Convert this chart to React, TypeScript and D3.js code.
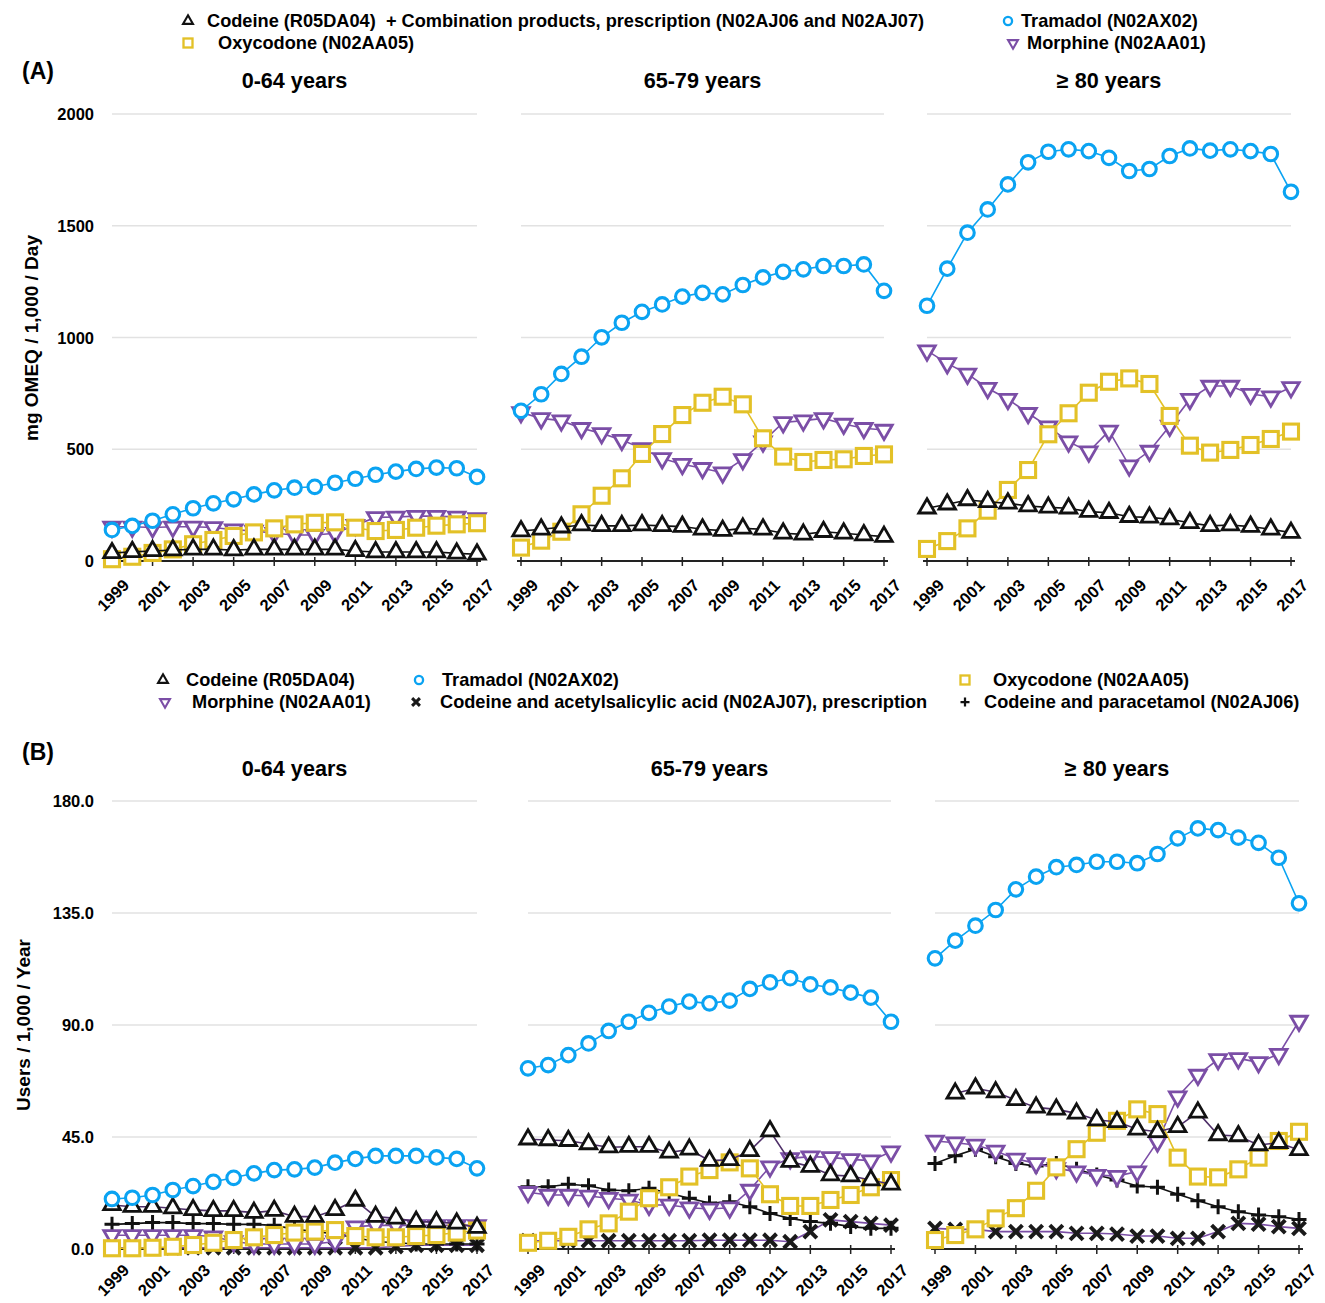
import React from 'react';
import * as d3 from 'd3';

const YEARS = [1999, 2000, 2001, 2002, 2003, 2004, 2005, 2006, 2007, 2008, 2009, 2010, 2011, 2012, 2013, 2014, 2015, 2016, 2017];
const YEAR_TICKS = [1999, 2001, 2003, 2005, 2007, 2009, 2011, 2013, 2015, 2017];
const AGE_GROUPS = ['0-64 years', '65-79 years', '\u2265 80 years'];

// (A) mg OMEQ / 1,000 / Day
const A_TRAMADOL_0_64 = [139, 157, 180, 209, 236, 258, 276, 298, 316, 328, 332, 350, 368, 386, 400, 412, 418, 415, 376];
const A_MORPHINE_0_64 = [153, 153, 150, 153, 153, 150, 140, 135, 124, 116, 116, 124, 160, 195, 197, 201, 201, 197, 190];
const A_OXYCODONE_0_64 = [8, 19, 36, 52, 75, 94, 112, 128, 146, 164, 171, 173, 149, 134, 139, 149, 158, 164, 169];
const A_CODEINE_0_64 = [36, 41, 45, 49, 52, 52, 49, 52, 52, 52, 52, 52, 45, 40, 40, 40, 40, 34, 30];

const A_TRAMADOL_65_79 = [672, 746, 837, 914, 1001, 1066, 1115, 1148, 1183, 1200, 1193, 1235, 1269, 1294, 1305, 1320, 1320, 1327, 1209];
const A_MORPHINE_65_79 = [665, 638, 628, 594, 571, 541, 504, 459, 433, 415, 395, 455, 534, 620, 628, 638, 613, 594, 586];
const A_OXYCODONE_65_79 = [60, 91, 131, 209, 292, 370, 479, 568, 653, 708, 735, 701, 549, 467, 443, 452, 455, 470, 477];
const A_CODEINE_65_79 = [134, 142, 151, 161, 157, 157, 161, 157, 154, 142, 136, 146, 142, 124, 119, 131, 124, 116, 109];

const A_TRAMADOL_80 = [1142, 1308, 1469, 1573, 1685, 1784, 1831, 1842, 1834, 1804, 1745, 1754, 1812, 1846, 1836, 1842, 1834, 1821, 1652];
const A_MORPHINE_80 = [941, 884, 837, 773, 724, 661, 601, 534, 489, 582, 427, 492, 604, 724, 783, 783, 747, 735, 777];
const A_OXYCODONE_80 = [54, 89, 146, 225, 318, 407, 567, 661, 753, 802, 817, 792, 649, 516, 485, 497, 519, 546, 579];
const A_CODEINE_80 = [236, 254, 273, 265, 258, 246, 240, 236, 221, 216, 198, 195, 187, 171, 157, 161, 154, 142, 127];

// (B) Users / 1,000 / Year
const B_TRAMADOL_0_64 = [20.1, 20.6, 21.7, 23.7, 25.3, 27.0, 28.6, 30.4, 31.7, 32.0, 32.7, 34.7, 36.2, 37.4, 37.4, 37.4, 36.8, 36.2, 32.4];
const B_CODEINE_0_64 = [17.7, 17.0, 17.0, 16.4, 15.7, 15.3, 15.3, 14.6, 15.4, 13.0, 13.0, 15.7, 19.5, 13.0, 12.3, 11.0, 10.8, 10.3, 8.6];
const B_MORPHINE_0_64 = [5.5, 5.5, 5.5, 5.5, 5.5, 5.0, 3.0, 2.0, 2.0, 2.0, 2.0, 3.0, 9.0, 9.5, 9.5, 9.5, 9.5, 9.5, 9.5];
const B_OXYCODONE_0_64 = [0.3, 0.3, 0.5, 0.9, 1.6, 2.5, 3.6, 4.7, 5.6, 6.6, 7.0, 7.6, 5.2, 4.7, 4.7, 5.2, 5.6, 6.6, 7.4];
const B_ASA_0_64 = [0.5, 0.5, 0.5, 0.5, 0.5, 0.5, 0.5, 0.5, 0.5, 0.5, 0.5, 0.5, 0.5, 0.5, 1.0, 1.5, 1.5, 1.5, 1.5];
const B_PARA_0_64 = [9.9, 10.2, 10.6, 10.6, 10.2, 10.2, 9.9, 9.9, 9.5, 8.0, 7.0, 6.0, 4.5, 3.0, 2.5, 2.0, 2.0, 2.0, 2.0];

const B_TRAMADOL_65_79 = [72.6, 73.9, 77.9, 82.6, 87.6, 91.3, 94.9, 97.4, 99.4, 98.7, 99.8, 104.5, 107.1, 108.8, 106.3, 105.1, 103.0, 101.0, 91.3];
const B_CODEINE_65_79 = [44.1, 43.8, 43.5, 42.2, 40.9, 41.1, 41.1, 38.8, 40.0, 35.5, 35.8, 39.4, 47.4, 35.1, 33.1, 29.7, 29.3, 27.7, 26.0];
const B_MORPHINE_65_79 = [22.8, 21.7, 21.7, 21.3, 20.4, 19.7, 17.7, 17.7, 16.6, 16.1, 16.6, 23.7, 33.1, 36.4, 37.1, 36.8, 36.0, 35.5, 39.1];
const B_OXYCODONE_65_79 = [2.5, 3.3, 4.9, 7.9, 10.3, 15.0, 20.4, 24.8, 29.1, 31.7, 34.8, 32.4, 22.0, 17.3, 17.3, 19.7, 21.7, 24.8, 27.7];
const B_ASA_65_79 = [3.3, 3.3, 3.3, 3.3, 3.3, 3.3, 3.3, 3.3, 3.3, 3.5, 3.5, 3.5, 3.5, 2.9, 7.0, 11.7, 11.0, 10.3, 9.6];
const B_PARA_65_79 = [25.0, 25.0, 26.0, 25.4, 23.7, 23.4, 24.4, 22.4, 20.4, 18.5, 19.0, 17.0, 14.3, 12.3, 11.0, 10.3, 9.0, 8.3, 8.3];

const B_TRAMADOL_80 = [116.8, 123.9, 129.9, 136.2, 144.5, 149.6, 153.4, 154.3, 155.6, 155.6, 155.0, 158.7, 165.0, 169.0, 168.3, 165.3, 163.2, 157.2, 138.9];
const B_CODEINE_80 = [null, 62.5, 64.6, 63.0, 59.9, 56.9, 56.1, 54.5, 51.8, 51.1, 48.1, 47.1, 49.1, 54.9, 45.8, 45.4, 41.8, 42.7, 39.8];
const B_MORPHINE_80 = [43.4, 42.7, 41.8, 39.4, 36.2, 34.4, 32.4, 31.1, 29.7, 29.3, 31.1, 43.1, 61.2, 69.9, 76.2, 76.6, 75.0, 78.3, 91.6];
const B_OXYCODONE_80 = [3.6, 5.6, 7.9, 12.3, 16.4, 23.4, 32.8, 40.1, 46.7, 51.5, 56.1, 54.2, 36.7, 29.1, 28.8, 32.0, 36.7, 43.4, 47.1];
const B_ASA_80 = [8.3, 7.9, 7.9, 7.0, 7.0, 7.0, 7.0, 6.3, 6.3, 6.0, 5.2, 5.2, 4.3, 4.3, 7.0, 10.3, 10.0, 9.0, 8.3];
const B_PARA_80 = [34.4, 37.5, 40.1, 37.1, 34.4, 33.3, 34.4, 32.0, 29.7, 27.7, 25.3, 24.8, 22.0, 19.4, 17.0, 15.0, 13.7, 13.0, 11.9];

const A_TICKS = [0, 500, 1000, 1500, 2000];
const B_TICKS = [0, 45, 90, 135, 180];

const LEGEND_A = [
  'Codeine (R05DA04)  + Combination products, prescription (N02AJ06 and N02AJ07)',
  'Tramadol (N02AX02)',
  'Oxycodone (N02AA05)',
  'Morphine (N02AA01)',
];
const LEGEND_B = [
  'Codeine (R05DA04)',
  'Tramadol (N02AX02)',
  'Oxycodone (N02AA05)',
  'Morphine (N02AA01)',
  'Codeine and acetylsalicylic acid (N02AJ07), prescription',
  'Codeine and paracetamol (N02AJ06)',
];

const BLUE = '#0aa3f2';
const GOLD = '#e3c127';
const PURPLE = '#7b4ea6';
const BLACK = '#111111';
const DARKPURPLE = '#4e2f68';
const FONT = '"Liberation Sans", Arial, Helvetica, sans-serif';

type Kind = 'circle' | 'square' | 'triUp' | 'triDown' | 'cross' | 'plus';

function Marker({ kind, color, s = 1 }: { kind: Kind; color: string; s?: number }) {
  const sw = (w: number) => w * Math.max(s, 0.75);
  if (kind === 'circle') return <circle r={6.8 * s} fill="#fff" stroke={color} strokeWidth={sw(3.1)} />;
  if (kind === 'square') return <rect x={-7.5 * s} y={-7.5 * s} width={15 * s} height={15 * s} fill="#fff" stroke={color} strokeWidth={sw(3.1)} />;
  if (kind === 'triUp' || kind === 'triDown') {
    const side = 16.5 * s;
    const h = (side * Math.sqrt(3)) / 2;
    const d = kind === 'triUp'
      ? `M0,${-2 * h / 3}L${side / 2},${h / 3}L${-side / 2},${h / 3}Z`
      : `M0,${2 * h / 3}L${side / 2},${-h / 3}L${-side / 2},${-h / 3}Z`;
    return <path d={d} fill="#fff" stroke={color} strokeWidth={sw(2.8)} strokeLinejoin="miter" />;
  }
  if (kind === 'cross') {
    const r = 6.5 * s;
    return <path d={`M${-r},${-r}L${r},${r}M${-r},${r}L${r},${-r}`} stroke="#1a1a1a" strokeWidth={sw(4)} fill="none" />;
  }
  const r = 7.5 * s;
  return <path d={`M${-r},0H${r}M0,${-r}V${r}`} stroke="#111" strokeWidth={sw(3)} fill="none" />;
}

type Series = { values: (number | null)[]; kind: Kind; color: string; line: string };

function Panel({ x0, x1, y0, yTop, max, ticks, series, title, titleY, showLabels, tickFmt, labelOffset }: any) {
  const x = d3.scaleLinear().domain([1999, 2017]).range([x0, x1]);
  const y = d3.scaleLinear().domain([0, max]).range([y0, yTop]);
  const line = d3.line<number | null>()
    .defined((d) => d !== null)
    .x((_, i) => x(YEARS[i]))
    .y((d) => y(d as number));
  return (
    <g>
      <text x={(x0 + x1) / 2} y={titleY} textAnchor="middle" fontSize={21.6} fontWeight="bold" fontFamily={FONT}>{title}</text>
      {ticks.filter((t: number) => t > 0).map((t: number) => (
        <line key={t} x1={x0} x2={x1} y1={y(t)} y2={y(t)} stroke="#e2e2e2" strokeWidth={1.5} />
      ))}
      {showLabels && ticks.map((t: number) => (
        <text key={'l' + t} x={x0 - 18} y={y(t) + 6} textAnchor="end" fontSize={16.5} fontWeight="bold" fontFamily={FONT}>{tickFmt(t)}</text>
      ))}
      <line x1={x0 - 4} x2={x1 + 4} y1={y0} y2={y0} stroke="#222" strokeWidth={2} />
      {YEAR_TICKS.map((yr) => (
        <g key={yr}>
          <line x1={x(yr)} x2={x(yr)} y1={y0 - 4} y2={y0 + 5} stroke="#222" strokeWidth={1.5} />
          <text transform={`translate(${x(yr) + 1},${y0 + labelOffset}) rotate(-45)`} textAnchor="middle" dominantBaseline="central" fontSize={16.5} fontWeight="bold" fontFamily={FONT}>{yr}</text>
        </g>
      ))}
      {series.map((s: Series, si: number) => (
        <g key={si}>
          <path d={line(s.values) || ''} fill="none" stroke={s.line} strokeWidth={1.6} />
          {s.values.map((v, i) => v === null ? null : (
            <g key={i} transform={`translate(${x(YEARS[i])},${y(v)})`}>
              <Marker kind={s.kind} color={s.color} />
            </g>
          ))}
        </g>
      ))}
    </g>
  );
}

function LegendItem({ x, tx, y, kind, color, label }: any) {
  return (
    <g>
      <g transform={`translate(${x},${y})`}><Marker kind={kind} color={color} s={0.6} /></g>
      <text x={tx} y={y + 6} fontSize={18.2} fontWeight="bold" fontFamily={FONT} style={{ whiteSpace: 'pre' }}>{label}</text>
    </g>
  );
}

export default function App() {
  const aData = [
    [A_MORPHINE_0_64, A_OXYCODONE_0_64, A_CODEINE_0_64, A_TRAMADOL_0_64],
    [A_MORPHINE_65_79, A_OXYCODONE_65_79, A_CODEINE_65_79, A_TRAMADOL_65_79],
    [A_MORPHINE_80, A_OXYCODONE_80, A_CODEINE_80, A_TRAMADOL_80],
  ];
  const bData = [
    [B_ASA_0_64, B_PARA_0_64, B_MORPHINE_0_64, B_OXYCODONE_0_64, B_CODEINE_0_64, B_TRAMADOL_0_64],
    [B_ASA_65_79, B_PARA_65_79, B_MORPHINE_65_79, B_OXYCODONE_65_79, B_CODEINE_65_79, B_TRAMADOL_65_79],
    [B_ASA_80, B_PARA_80, B_MORPHINE_80, B_OXYCODONE_80, B_CODEINE_80, B_TRAMADOL_80],
  ];
  const aStyles: [Kind, string, string][] = [
    ['triDown', PURPLE, PURPLE], ['square', GOLD, GOLD], ['triUp', BLACK, BLACK], ['circle', BLUE, BLUE],
  ];
  const bStyles: [Kind, string, string][] = [
    ['cross', BLACK, PURPLE], ['plus', BLACK, BLACK], ['triDown', PURPLE, PURPLE], ['square', GOLD, GOLD], ['triUp', BLACK, DARKPURPLE], ['circle', BLUE, BLUE],
  ];
  const aX = [[112, 477], [521, 884], [927, 1291]];
  const bX = [[112, 477], [528, 891], [935, 1299]];

  return (
    <svg width={1325} height={1303} viewBox="0 0 1325 1303" style={{ position: 'absolute', left: 0, top: 0, background: '#fff' }}>
      <rect width={1325} height={1303} fill="#fff" />
      {/* Legend A */}
      <LegendItem x={188} tx={207} y={21} kind="triUp" color={BLACK} label={LEGEND_A[0]} />
      <LegendItem x={1008} tx={1021} y={21} kind="circle" color={BLUE} label={LEGEND_A[1]} />
      <LegendItem x={188} tx={218} y={43} kind="square" color={GOLD} label={LEGEND_A[2]} />
      <LegendItem x={1013} tx={1027} y={43} kind="triDown" color={PURPLE} label={LEGEND_A[3]} />
      <text x={22} y={79} fontSize={23} fontWeight="bold" fontFamily={FONT}>(A)</text>
      <text transform="translate(38,338) rotate(-90)" textAnchor="middle" fontSize={19} fontWeight="bold" fontFamily={FONT}>mg OMEQ / 1,000 / Day</text>
      {aX.map((r, pi) => (
        <Panel key={'a' + pi} x0={r[0]} x1={r[1]} y0={561} yTop={114} max={2000} ticks={A_TICKS}
          title={AGE_GROUPS[pi]} titleY={88} showLabels={pi === 0} tickFmt={(t: number) => String(t)} labelOffset={34}
          series={aData[pi].map((v, i) => ({ values: v, kind: aStyles[i][0], color: aStyles[i][1], line: aStyles[i][2] }))} />
      ))}
      {/* Legend B */}
      <LegendItem x={163} tx={186} y={680} kind="triUp" color={BLACK} label={LEGEND_B[0]} />
      <LegendItem x={419} tx={442} y={680} kind="circle" color={BLUE} label={LEGEND_B[1]} />
      <LegendItem x={965} tx={993} y={680} kind="square" color={GOLD} label={LEGEND_B[2]} />
      <LegendItem x={165} tx={192} y={702} kind="triDown" color={PURPLE} label={LEGEND_B[3]} />
      <LegendItem x={416} tx={440} y={702} kind="cross" color={BLACK} label={LEGEND_B[4]} />
      <LegendItem x={965} tx={984} y={702} kind="plus" color={BLACK} label={LEGEND_B[5]} />
      <text x={22} y={760} fontSize={23} fontWeight="bold" fontFamily={FONT}>(B)</text>
      <text transform="translate(30,1025) rotate(-90)" textAnchor="middle" fontSize={19} fontWeight="bold" fontFamily={FONT}>Users / 1,000 / Year</text>
      {bX.map((r, pi) => (
        <Panel key={'b' + pi} x0={r[0]} x1={r[1]} y0={1249} yTop={801} max={180} ticks={B_TICKS}
          title={AGE_GROUPS[pi]} titleY={776} showLabels={pi === 0} tickFmt={(t: number) => t.toFixed(1)} labelOffset={31}
          series={bData[pi].map((v, i) => ({ values: v, kind: bStyles[i][0], color: bStyles[i][1], line: bStyles[i][2] }))} />
      ))}
    </svg>
  );
}
